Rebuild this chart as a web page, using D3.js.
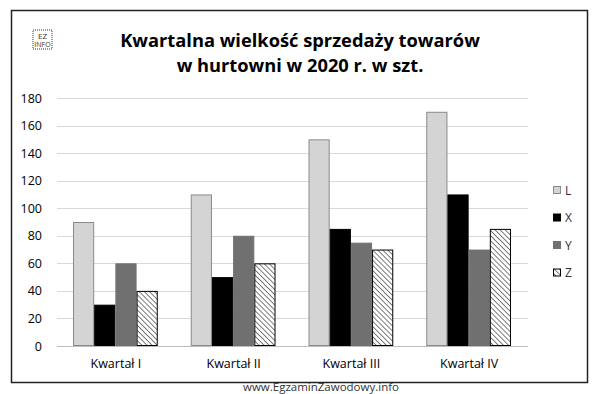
<!DOCTYPE html>
<meta charset="utf-8">
<script src="https://d3js.org/d3.v7.min.js"></script>
<style>
  body { margin: 0; background: #fff; }
  text { font-family: "Open Sans", "Liberation Sans", sans-serif; }
</style>
<div id="chart"></div>
<script>

    // data
    var categories = ["Kwartał I", "Kwartał II", "Kwartał III", "Kwartał IV"];
    var seriesNames = ["L", "X", "Y", "Z"];
    var valuesL = [90, 110, 150, 170];
    var valuesX = [30, 50, 85, 110];
    var valuesY = [60, 80, 75, 70];
    var valuesZ = [40, 60, 70, 85];
    var yTicks = [0, 20, 40, 60, 80, 100, 120, 140, 160, 180];

    var series = [valuesL, valuesX, valuesY, valuesZ];

    var W = 599, H = 394;
    var margin = { top: 98, right: 71, bottom: 48, left: 57 },
        width = W - margin.left - margin.right,
        height = H - margin.top - margin.bottom;

    var root = d3.select("#chart")
        .append("svg")
        .attr("width", W)
        .attr("height", H);

    // hatch pattern for Z (lines running top-left to bottom-right)
    var defs = root.append("defs");
    var pat = defs.append("pattern")
        .attr("id", "hatch")
        .attr("patternUnits", "userSpaceOnUse")
        .attr("width", 3.6)
        .attr("height", 3.6)
        .attr("patternTransform", "rotate(-45)");
    pat.append("rect").attr("width", 3.6).attr("height", 3.6).attr("fill", "#fff");
    pat.append("line")
        .attr("x1", 0).attr("y1", 0).attr("x2", 0).attr("y2", 3.6)
        .attr("stroke", "#111").attr("stroke-width", 1.1);

    var fills = ["#d4d4d4", "#000000", "#707070", "url(#hatch)"];
    var strokes = ["#8a8a8a", "#000000", "#707070", "#000000"];

    // frame
    root.append("rect")
        .attr("x", 11.5).attr("y", 10.5)
        .attr("width", 576).attr("height", 372)
        .attr("fill", "none")
        .attr("stroke", "#222")
        .attr("stroke-width", 1.5);

    // little logo
    var logo = root.append("g").attr("transform", "translate(33,30)");
    logo.append("rect")
        .attr("width", 19).attr("height", 19)
        .attr("fill", "none").attr("stroke", "#333")
        .attr("stroke-dasharray", "1,1");
    logo.append("text").attr("x", 9.5).attr("y", 8.5)
        .attr("text-anchor", "middle").attr("font-size", 8).attr("fill", "#333").text("EZ");
    logo.append("text").attr("x", 9.5).attr("y", 17)
        .attr("text-anchor", "middle").attr("font-size", 7).attr("fill", "#333").text("INFO");

    // title
    var title = ["Kwartalna wielkość sprzedaży towarów", "w hurtowni w 2020 r. w szt."];
    root.selectAll(".title")
        .data(title)
        .join("text")
        .attr("class", "title")
        .attr("x", 300)
        .attr("y", function (d, i) { return 47 + i * 25; })
        .attr("text-anchor", "middle")
        .attr("font-size", 18.3)
        .attr("font-weight", "bold")
        .attr("fill", "#000")
        .text(function (d) { return d; });

    var svg = root.append("g")
        .attr("transform", "translate(" + margin.left + "," + margin.top + ")");

    var x = d3.scaleBand()
        .domain(categories)
        .range([0, width]);

    var x1 = d3.scaleBand()
        .domain(seriesNames)
        .range([16, x.bandwidth() - 17]);

    var y = d3.scaleLinear()
        .domain([0, 180])
        .range([height, 0]);

    // gridlines
    svg.append("g")
        .selectAll("line")
        .data(yTicks)
        .join("line")
        .attr("x1", 0).attr("x2", width)
        .attr("y1", function (d) { return Math.round(y(d)) + 0.5; })
        .attr("y2", function (d) { return Math.round(y(d)) + 0.5; })
        .attr("stroke", function (d) { return d === 0 ? "#bdbdbd" : "#d9d9d9"; })
        .attr("stroke-width", 1);

    // y axis labels
    var yAxis = svg.append("g")
        .call(d3.axisLeft(y).tickValues(yTicks).tickSize(0).tickPadding(15));
    yAxis.select(".domain").remove();
    yAxis.selectAll("text")
        .attr("font-size", 12.5)
        .attr("font-family", "'Open Sans', sans-serif")
        .attr("fill", "#000");

    // x axis labels
    var xAxis = svg.append("g")
        .attr("transform", "translate(0," + height + ")")
        .call(d3.axisBottom(x).tickSize(0).tickPadding(13));
    xAxis.select(".domain").remove();
    xAxis.selectAll("text")
        .attr("font-size", 12.5)
        .attr("font-family", "'Open Sans', sans-serif")
        .attr("fill", "#000");

    // bars
    series.forEach(function (vals, s) {
        svg.append("g")
            .selectAll("rect")
            .data(vals)
            .join("rect")
            .attr("x", function (d, i) { return x(categories[i]) + x1(seriesNames[s]) + 0.5; })
            .attr("y", function (d) { return y(d) + 0.5; })
            .attr("width", x1.bandwidth() - 1)
            .attr("height", function (d) { return height - y(d) - 1; })
            .attr("fill", fills[s])
            .attr("stroke", strokes[s])
            .attr("stroke-width", 1);
    });

    // legend
    var legend = root.append("g")
        .selectAll("g")
        .data(seriesNames)
        .join("g")
        .attr("transform", function (d, i) { return "translate(553," + (186 + i * 27.5) + ")"; });
    legend.append("rect")
        .attr("x", 0.5).attr("y", 0.5)
        .attr("width", 7).attr("height", 7)
        .attr("fill", function (d, i) { return fills[i]; })
        .attr("stroke", function (d, i) { return strokes[i]; });
    legend.append("text")
        .attr("x", 12)
        .attr("y", 8.5)
        .attr("font-size", 12)
        .attr("fill", "#333")
        .text(function (d) { return d; });

    // footer
    root.append("text")
        .attr("x", 321)
        .attr("y", 391)
        .attr("text-anchor", "middle")
        .attr("font-size", 11.5)
        .attr("fill", "#333")
        .text("www.EgzaminZawodowy.info");
</script>
